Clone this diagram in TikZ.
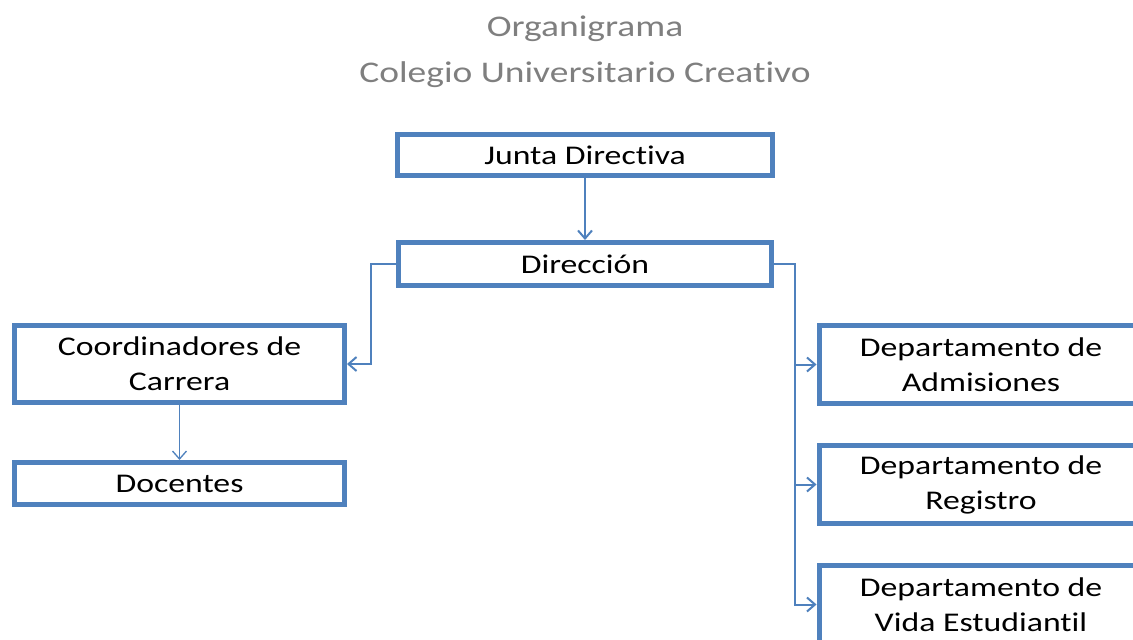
\documentclass[tikz,border=0pt]{standalone}
\usepackage{fontspec}
\setmainfont{Carlito}[FakeStretch=1.25,Ligatures={NoCommon}]
\usetikzlibrary{positioning,arrows.meta}
\definecolor{orgblue}{HTML}{4F81BD}
\definecolor{titlegray}{HTML}{7F7F7F}

\begin{document}
\begin{tikzpicture}[x=1pt,y=-1pt,node distance=37pt]
                \tikzstyle{title} = [text=titlegray, font=\fontsize{30}{36}\selectfont]
                \tikzstyle{unit} = [rectangle, draw=orgblue, line width=5pt, align=center, text centered, font=\fontsize{27}{35}\selectfont]
                \tikzstyle{link} = [draw=orgblue, line width=2pt, -{Straight Barb[length=8pt,width=14pt]}]
                \tikzstyle{thinlink} = [link, line width=1.3pt]
                \useasboundingbox (0,0) rectangle (1133,640);

                \node (orga) [title] at (585,29) {Organigrama};
                \node (colegio) [title] at (585,75) {Colegio Universitario Creativo};

                \node (junta) [unit, minimum width=375pt, minimum height=41pt] at (585,155) {Junta Directiva};
                \node (direccion) [unit, minimum width=373pt, minimum height=43pt, below=62pt of junta] {Dirección};
                \node (coord) [unit, minimum width=330pt, minimum height=77pt] at (179.5,364) {Coordinadores de\\Carrera};
                \node (docentes) [unit, minimum width=330pt, minimum height=42pt, below=55pt of coord] {Docentes};
                \node (admis) [unit, minimum width=324pt, minimum height=78pt] at (981,364.5) {Departamento de\\Admisiones};
                \node (registro) [unit, minimum width=324pt, minimum height=78pt, below=of admis] {Departamento de\\Registro};
                \node (vida) [unit, minimum width=324pt, minimum height=78pt, below=of registro] {Departamento de\\Vida Estudiantil};

                \draw [link] (junta) -- (direccion);
                \draw [link] (direccion.west) -- ++(-25,0) |- (coord.east);
                \draw [thinlink] (coord) -- (docentes);
                \draw [link] (direccion.east) -- ++(21,0) |- (admis.west);
                \draw [link] (direccion.east) -- ++(21,0) |- (registro.west);
                \draw [link] (direccion.east) -- ++(21,0) |- (vida.west);
            \end{tikzpicture}
\end{document}
